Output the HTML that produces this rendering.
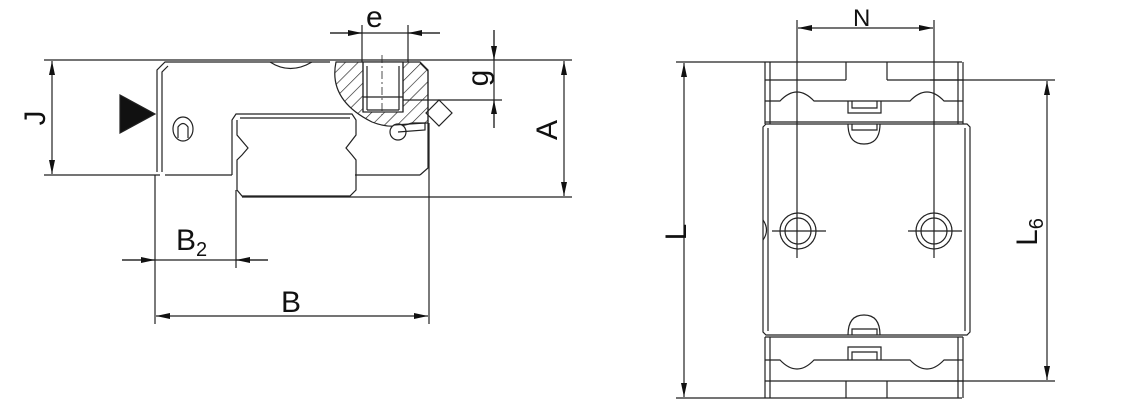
<!DOCTYPE html>
<html><head><meta charset="utf-8"><style>
html,body{margin:0;padding:0;background:#fff;}
svg{display:block;}
text{font-family:"Liberation Sans",sans-serif;fill:#111;}
</style></head><body>
<svg width="1122" height="409" viewBox="0 0 1122 409" xmlns="http://www.w3.org/2000/svg">
<defs>
<marker id="a" viewBox="0 0 14 6" refX="14" refY="3" markerWidth="14" markerHeight="6" orient="auto-start-reverse" markerUnits="userSpaceOnUse"><path d="M0,0 L14,3 L0,6 z" fill="#111"/></marker>
<pattern id="h" width="9" height="9" patternUnits="userSpaceOnUse" patternTransform="rotate(45)"><line x1="0" y1="0" x2="0" y2="9" stroke="#222" stroke-width="1.3"/></pattern>
</defs>
<g stroke="#222" stroke-width="1.2" fill="none">
<!-- LEFT VIEW -->
<line x1="44" y1="60" x2="572" y2="60"/>
<line x1="44" y1="175" x2="160" y2="175"/>
<line x1="165" y1="175" x2="232" y2="175"/>
<line x1="355" y1="175" x2="420" y2="175"/>
<line x1="242" y1="197" x2="572" y2="197"/>
<path d="M157,172 L157,70 L165,62 L330,62"/>
<path d="M162,172 L162,72 L168,66"/>
<path d="M420,63 L428,71 L428,168 L420,175"/>
<path d="M270,62 Q290,75 312,62"/>
<path d="M232,175 L232,120 L236,114 L352,114 L356,120 L356,135 L346,148 L352,155 L356,160 L356,190 L350,196 L242,196 L237,190 L237,160 L242,155 L248,148 L237,135 L237,120"/>
<path d="M240,118 L350,118"/>
<ellipse cx="183" cy="129" rx="10" ry="12"/>
<path d="M178,138 L178,127 Q183,120 188,127 L188,138"/>
<path d="M336,62 Q328,100 372,122 Q392,130 412,123 L428,123 L428,70 L420,62 Z" fill="url(#h)"/>
<rect x="363" y="62" width="40" height="50" fill="#fff"/>
<line x1="363" y1="62" x2="363" y2="112"/>
<line x1="403" y1="62" x2="403" y2="112"/>
<line x1="367" y1="66" x2="367" y2="110"/>
<line x1="399" y1="66" x2="399" y2="110"/>
<line x1="363" y1="97" x2="403" y2="97"/>
<line x1="367" y1="110" x2="399" y2="110"/>
<line x1="382" y1="55" x2="382" y2="115" stroke-dasharray="8,3,2,3" stroke-width="0.8"/>
<circle cx="398" cy="132" r="8" fill="#fff"/>
<path d="M394,125 L425,123 L425,130 L398,132"/>
<path d="M439,100 L452,113 L439,126 L426,113 Z"/>
<path d="M120,95 L155,114 L120,133 Z" fill="#111"/>
<line x1="52" y1="61" x2="52" y2="174" marker-start="url(#a)" marker-end="url(#a)"/>
<line x1="564" y1="61" x2="564" y2="196" marker-start="url(#a)" marker-end="url(#a)"/>
<line x1="155" y1="175" x2="155" y2="268"/>
<line x1="236" y1="190" x2="236" y2="268"/>
<line x1="122" y1="260" x2="268" y2="260"/>
<line x1="122" y1="260" x2="155" y2="260" marker-end="url(#a)"/>
<line x1="268" y1="260" x2="236" y2="260" marker-end="url(#a)"/>
<line x1="155" y1="268" x2="155" y2="324"/>
<line x1="429" y1="123" x2="429" y2="324"/>
<line x1="156" y1="316" x2="428" y2="316" marker-start="url(#a)" marker-end="url(#a)"/>
<line x1="362" y1="25" x2="362" y2="62"/>
<line x1="408" y1="25" x2="408" y2="62"/>
<line x1="330" y1="33" x2="440" y2="33"/>
<line x1="330" y1="33" x2="362" y2="33" marker-end="url(#a)"/>
<line x1="440" y1="33" x2="408" y2="33" marker-end="url(#a)"/>
<line x1="403" y1="100" x2="502" y2="100"/>
<line x1="494" y1="30" x2="494" y2="128"/>
<line x1="494" y1="30" x2="494" y2="60" marker-end="url(#a)"/>
<line x1="494" y1="128" x2="494" y2="100" marker-end="url(#a)"/>
<!-- RIGHT VIEW -->
<line x1="676" y1="62" x2="962" y2="62"/>
<line x1="676" y1="398" x2="962" y2="398"/>
<line x1="684" y1="63" x2="684" y2="397" marker-start="url(#a)" marker-end="url(#a)"/>
<line x1="930" y1="80" x2="1055" y2="80"/>
<line x1="930" y1="381" x2="1055" y2="381"/>
<line x1="1047" y1="81" x2="1047" y2="380" marker-start="url(#a)" marker-end="url(#a)"/>
<line x1="797" y1="20" x2="797" y2="258"/>
<line x1="934" y1="20" x2="934" y2="258"/>
<line x1="798" y1="28" x2="933" y2="28" marker-start="url(#a)" marker-end="url(#a)"/>
<path d="M765,62 L765,124 M770,62 L770,124 M963,62 L963,124 M958,62 L958,124"/>
<path d="M846,62 L846,80 M887,62 L887,80"/>
<line x1="765" y1="80" x2="846" y2="80"/><line x1="887" y1="80" x2="963" y2="80"/>
<path d="M765,101 L780,101 Q797,83 814,101 L910,101 Q927,83 944,101 L963,101"/>
<path d="M848,101 L848,113 L881,113 L881,101 M852,101 L852,108 L877,108 L877,101"/>
<line x1="765" y1="122" x2="963" y2="122"/>
<path d="M763,127 L766,124 L967,124 L970,127 L970,332 L967,335 L766,335 L763,332 Z"/>
<path d="M768,128 L768,331 M965,128 L965,331"/>
<path d="M763,220 Q770,230 763,240"/>
<path d="M848,124 Q848,144 864,144 Q880,144 880,124 M852,124 L852,130 L877,130 L877,124"/>
<path d="M848,335 Q848,315 864,315 Q880,315 880,335 M852,335 L852,329 L877,329 L877,335"/>
<circle cx="798" cy="231" r="18"/><circle cx="798" cy="231" r="13"/>
<circle cx="934" cy="231" r="18"/><circle cx="934" cy="231" r="13"/>
<line x1="772" y1="231" x2="826" y2="231"/>
<line x1="908" y1="231" x2="962" y2="231"/>
<path d="M765,337 L765,398 M770,337 L770,398 M963,337 L963,398 M958,337 L958,398"/>
<line x1="765" y1="337" x2="963" y2="337"/>
<path d="M848,360 L848,347 L881,347 L881,360 M852,360 L852,352 L877,352 L877,360"/>
<path d="M765,360 L780,360 Q797,378 814,360 L910,360 Q927,378 944,360 L963,360"/>
<line x1="765" y1="381" x2="963" y2="381"/>
<path d="M846,381 L846,398 M887,381 L887,398"/>
</g>
<g font-size="30">
<text x="366" y="27">e</text>
<text x="176" y="250">B<tspan font-size="20" dy="6">2</tspan></text>
<text x="281" y="312">B</text>
<text x="853" y="26" font-size="24">N</text>
<text transform="translate(45,118) rotate(-90)" text-anchor="middle">J</text>
<text transform="translate(557,130) rotate(-90)" text-anchor="middle">A</text>
<text transform="translate(488,78) rotate(-90)" text-anchor="middle">g</text>
<text transform="translate(686,232) rotate(-90)" text-anchor="middle">L</text>
<text transform="translate(1037,232) rotate(-90)" text-anchor="middle">L<tspan font-size="20" dy="6">6</tspan></text>
</g>
</svg>
</body></html>
